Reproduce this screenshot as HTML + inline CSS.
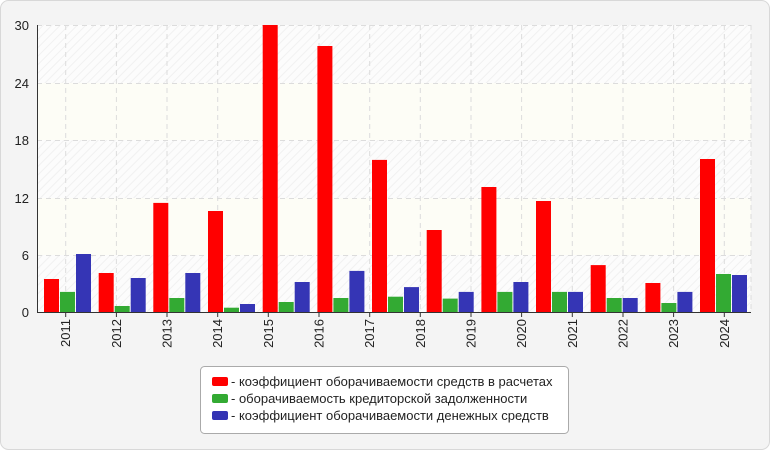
<!DOCTYPE html>
<html><head><meta charset="utf-8"><style>
body{margin:0;background:#fff}
</style></head><body>
<svg width="770" height="450" xmlns="http://www.w3.org/2000/svg" font-family="Liberation Sans, sans-serif">
<defs>
<pattern id="h" width="6" height="6" patternUnits="userSpaceOnUse" patternTransform="rotate(45)">
<rect width="6" height="6" fill="#fcfcfc"/><line x1="0" y1="0" x2="0" y2="6" stroke="#f1f1f1" stroke-width="2"/>
</pattern>
</defs>
<rect x="0.5" y="0.5" width="769" height="449" rx="8" fill="#f4f4f4" stroke="#d8d8d8"/>
<rect x="37" y="25" width="714" height="287" fill="url(#h)"/>
<rect x="37" y="198" width="714" height="57" fill="#fdfdf6"/>
<rect x="37" y="83" width="714" height="57" fill="#fdfdf6"/>
<g stroke="#dcdcdc" stroke-dasharray="5,4" stroke-width="1">
<line x1="37" x2="751" y1="25.5" y2="25.5"/>
<line x1="37" x2="751" y1="83.5" y2="83.5"/>
<line x1="37" x2="751" y1="140.5" y2="140.5"/>
<line x1="37" x2="751" y1="198.5" y2="198.5"/>
<line x1="37" x2="751" y1="255.5" y2="255.5"/>
<line x1="751" x2="751" y1="25" y2="312"/>
<line x1="65.7" x2="65.7" y1="25" y2="312"/>
<line x1="116.4" x2="116.4" y1="25" y2="312"/>
<line x1="167" x2="167" y1="25" y2="312"/>
<line x1="217.7" x2="217.7" y1="25" y2="312"/>
<line x1="268.3" x2="268.3" y1="25" y2="312"/>
<line x1="319" x2="319" y1="25" y2="312"/>
<line x1="369.7" x2="369.7" y1="25" y2="312"/>
<line x1="420.3" x2="420.3" y1="25" y2="312"/>
<line x1="471" x2="471" y1="25" y2="312"/>
<line x1="521.6" x2="521.6" y1="25" y2="312"/>
<line x1="572.3" x2="572.3" y1="25" y2="312"/>
<line x1="623" x2="623" y1="25" y2="312"/>
<line x1="673.6" x2="673.6" y1="25" y2="312"/>
<line x1="724.3" x2="724.3" y1="25" y2="312"/>
</g>
<g>
<rect x="44" y="279" width="15" height="33" fill="#ff0000"/><rect x="60" y="291.9" width="15" height="20.1" fill="#33aa33"/><rect x="76" y="254" width="15" height="58" fill="#3535b5"/>
<rect x="98.7" y="273" width="15" height="39" fill="#ff0000"/><rect x="114.7" y="306" width="15" height="6" fill="#33aa33"/><rect x="130.7" y="278" width="15" height="34" fill="#3535b5"/>
<rect x="153.3" y="202.9" width="15" height="109.1" fill="#ff0000"/><rect x="169.3" y="298" width="15" height="14" fill="#33aa33"/><rect x="185.3" y="273" width="15" height="39" fill="#3535b5"/>
<rect x="208" y="211" width="15" height="101" fill="#ff0000"/><rect x="224" y="307.7" width="15" height="4.3" fill="#33aa33"/><rect x="240" y="304" width="15" height="8" fill="#3535b5"/>
<rect x="262.7" y="25" width="15" height="287" fill="#ff0000"/><rect x="278.7" y="302" width="15" height="10" fill="#33aa33"/><rect x="294.7" y="282" width="15" height="30" fill="#3535b5"/>
<rect x="317.4" y="46" width="15" height="266" fill="#ff0000"/><rect x="333.4" y="298" width="15" height="14" fill="#33aa33"/><rect x="349.4" y="270.9" width="15" height="41.1" fill="#3535b5"/>
<rect x="372" y="159.9" width="15" height="152.1" fill="#ff0000"/><rect x="388" y="296.7" width="15" height="15.3" fill="#33aa33"/><rect x="404" y="287.1" width="15" height="24.9" fill="#3535b5"/>
<rect x="426.7" y="230" width="15" height="82" fill="#ff0000"/><rect x="442.7" y="298.6" width="15" height="13.4" fill="#33aa33"/><rect x="458.7" y="291.9" width="15" height="20.1" fill="#3535b5"/>
<rect x="481.4" y="187" width="15" height="125" fill="#ff0000"/><rect x="497.4" y="291.9" width="15" height="20.1" fill="#33aa33"/><rect x="513.4" y="282" width="15" height="30" fill="#3535b5"/>
<rect x="536" y="201" width="15" height="111" fill="#ff0000"/><rect x="552" y="291.9" width="15" height="20.1" fill="#33aa33"/><rect x="568" y="291.9" width="15" height="20.1" fill="#3535b5"/>
<rect x="590.7" y="265.1" width="15" height="46.9" fill="#ff0000"/><rect x="606.7" y="298" width="15" height="14" fill="#33aa33"/><rect x="622.7" y="298" width="15" height="14" fill="#3535b5"/>
<rect x="645.4" y="283" width="15" height="29" fill="#ff0000"/><rect x="661.4" y="303" width="15" height="9" fill="#33aa33"/><rect x="677.4" y="291.9" width="15" height="20.1" fill="#3535b5"/>
<rect x="700" y="159" width="15" height="153" fill="#ff0000"/><rect x="716" y="274" width="15" height="38" fill="#33aa33"/><rect x="732" y="275" width="15" height="37" fill="#3535b5"/>
</g>
<line x1="37.5" y1="25" x2="37.5" y2="312" stroke="#333"/>
<line x1="37" y1="312.5" x2="751" y2="312.5" stroke="#333"/>
<g font-size="13" fill="#222" text-anchor="end">
<text x="29" y="30">30</text><text x="29" y="88">24</text><text x="29" y="145">18</text>
<text x="29" y="203">12</text><text x="29" y="260">6</text><text x="29" y="317">0</text>
</g>
<g stroke="#333">
<line x1="65.7" x2="65.7" y1="312" y2="317"/><line x1="116.4" x2="116.4" y1="312" y2="317"/><line x1="167" x2="167" y1="312" y2="317"/><line x1="217.7" x2="217.7" y1="312" y2="317"/><line x1="268.3" x2="268.3" y1="312" y2="317"/><line x1="319" x2="319" y1="312" y2="317"/><line x1="369.7" x2="369.7" y1="312" y2="317"/><line x1="420.3" x2="420.3" y1="312" y2="317"/><line x1="471" x2="471" y1="312" y2="317"/><line x1="521.6" x2="521.6" y1="312" y2="317"/><line x1="572.3" x2="572.3" y1="312" y2="317"/><line x1="623" x2="623" y1="312" y2="317"/><line x1="673.6" x2="673.6" y1="312" y2="317"/><line x1="724.3" x2="724.3" y1="312" y2="317"/>
</g>
<g font-size="13" fill="#222" text-anchor="end">
<text transform="translate(70.2,319) rotate(-90)">2011</text>
<text transform="translate(120.9,319) rotate(-90)">2012</text>
<text transform="translate(171.5,319) rotate(-90)">2013</text>
<text transform="translate(222.2,319) rotate(-90)">2014</text>
<text transform="translate(272.8,319) rotate(-90)">2015</text>
<text transform="translate(323.5,319) rotate(-90)">2016</text>
<text transform="translate(374.2,319) rotate(-90)">2017</text>
<text transform="translate(424.8,319) rotate(-90)">2018</text>
<text transform="translate(475.5,319) rotate(-90)">2019</text>
<text transform="translate(526.1,319) rotate(-90)">2020</text>
<text transform="translate(576.8,319) rotate(-90)">2021</text>
<text transform="translate(627.5,319) rotate(-90)">2022</text>
<text transform="translate(678.1,319) rotate(-90)">2023</text>
<text transform="translate(728.8,319) rotate(-90)">2024</text>
</g>
<rect x="200.5" y="366.5" width="368" height="67" rx="4" fill="#fff" stroke="#aaa"/>
<g font-size="13" fill="#222">
<rect x="212" y="377" width="16" height="9" rx="2" fill="#ff0000"/><text x="231" y="386">- коэффициент оборачиваемости средств в расчетах</text>
<rect x="212" y="394" width="16" height="9" rx="2" fill="#33aa33"/><text x="231" y="403">- оборачиваемость кредиторской задолженности</text>
<rect x="212" y="411" width="16" height="9" rx="2" fill="#3333b3"/><text x="231" y="420">- коэффициент оборачиваемости денежных средств</text>
</g>
</svg>
</body></html>
